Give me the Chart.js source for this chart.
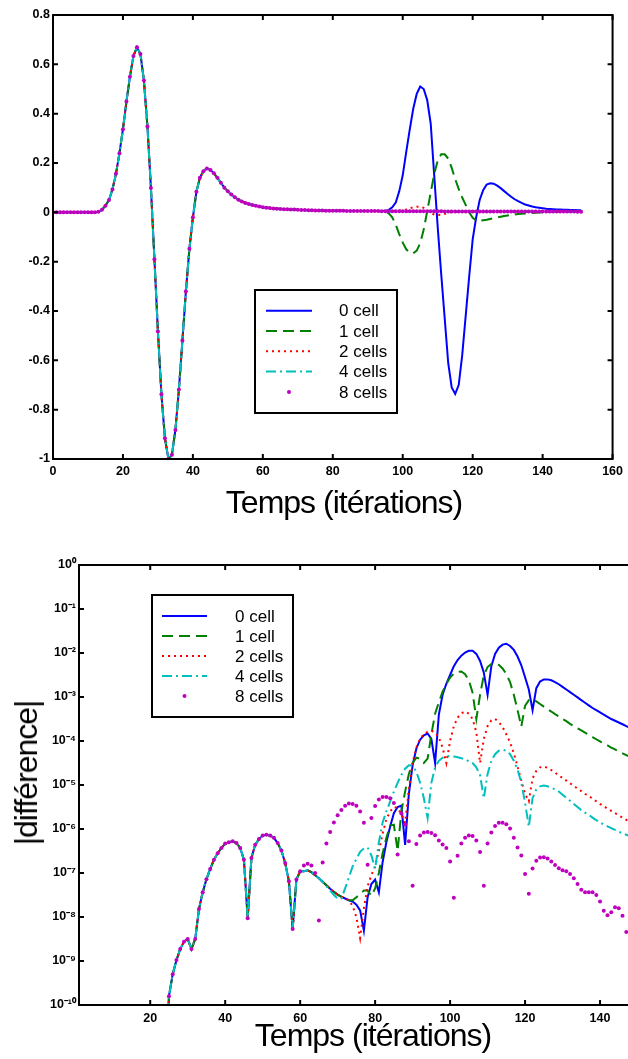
<!DOCTYPE html>
<html>
<head>
<meta charset="utf-8">
<script src="https://cdn.jsdelivr.net/npm/chart.js@4/dist/chart.umd.min.js"></script>
<style>
  body { margin: 0; width: 628px; height: 1059px; overflow: hidden; position: relative; background: #fff; }
  canvas { position: absolute; left: 0; }
  .title { position: absolute; font: 32px "Liberation Sans", Arial, sans-serif; letter-spacing: -1px;
           line-height: 32px; white-space: nowrap; color: #000; transform: translateX(-50%); }
  .ytitle { position: absolute; left: 26px; top: 773px; font: 32px "Liberation Sans", Arial, sans-serif;
            letter-spacing: -1px; line-height: 32px; white-space: nowrap; color: #000;
            transform: translate(-50%, -50%) rotate(-90deg); }
</style>
</head>
<body>
<canvas id="top" width="628" height="485" style="top:0"></canvas>
<canvas id="bottom" width="700" height="529" style="top:530px"></canvas>
<div class="title" style="left:344px; top:486px">Temps (itérations)</div>
<div class="title" style="left:373px; top:1019px">Temps (itérations)</div>
<div class="ytitle">|différence|</div>
<script>
// series names, one per simulation
const seriesNames = ['0 cell', '1 cell', '2 cells', '4 cells', '8 cells'];

// top chart: signal vs iteration, t = 0..151 (common waveform, 4 and 8 cells stay on it)
const topBase = [
  0, 0, 0, 0, 0, 0, 0, 0, 0, 0,
  0, 0, 0, 0.002, 0.01, 0.027, 0.05, 0.093, 0.156, 0.24,
  0.337, 0.449, 0.55, 0.634, 0.669, 0.642, 0.534, 0.348, 0.099, -0.19,
  -0.483, -0.737, -0.916, -1.0, -0.983, -0.882, -0.718, -0.52, -0.32, -0.148,
  -0.02, 0.083, 0.14, 0.167, 0.178, 0.172, 0.158, 0.14, 0.12, 0.1,
  0.085, 0.072, 0.061, 0.051, 0.044, 0.038, 0.034, 0.03, 0.027, 0.024,
  0.021, 0.019, 0.018, 0.016, 0.015, 0.014, 0.013, 0.012, 0.011, 0.011,
  0.01, 0.0095, 0.009, 0.0085, 0.008, 0.0075, 0.007, 0.007, 0.0068, 0.0066,
  0.0064, 0.0062, 0.006, 0.006, 0.0058, 0.0056, 0.0055, 0.0054, 0.0053, 0.0052,
  0.0051, 0.005, 0.005, 0.0049, 0.0048, 0.0047, 0.0046, 0.0045, 0.0045, 0.0044,
  0.0044, 0.0043, 0.0043, 0.0042, 0.0042, 0.0041, 0.0041, 0.004, 0.004, 0.004,
  0.0039, 0.0039, 0.0038, 0.0038, 0.0038, 0.0037, 0.0037, 0.0036, 0.0036, 0.0036,
  0.0035, 0.0035, 0.0035, 0.0034, 0.0034, 0.0034, 0.0033, 0.0033, 0.0033, 0.0033,
  0.0032, 0.0032, 0.0032, 0.0032, 0.0031, 0.0031, 0.0031, 0.0031, 0.003, 0.003,
  0.003, 0.003, 0.003, 0.003, 0.0029, 0.0029, 0.0029, 0.0029, 0.0029, 0.0029,
  0.0028, 0.0028
];
// tails from t = 95 where 0, 1, 2 cells leave the common waveform
const TOP_SPLIT = 95;
const top0Tail = [
  0.006, 0.01, 0.02, 0.04, 0.085, 0.15, 0.245, 0.335, 0.42, 0.48,
  0.51, 0.5, 0.455, 0.36, 0.15, -0.06, -0.25, -0.43, -0.61, -0.71,
  -0.736, -0.7, -0.58, -0.42, -0.26, -0.11, -0.02, 0.05, 0.09, 0.113,
  0.118, 0.116, 0.108, 0.098, 0.086, 0.074, 0.063, 0.053, 0.045, 0.038,
  0.032, 0.028, 0.024, 0.021, 0.019, 0.017, 0.015, 0.014, 0.013, 0.012,
  0.011, 0.01, 0.01, 0.009, 0.009, 0.008, 0.008
];
const top1Tail = [
  0.004, -0.004, -0.02, -0.05, -0.088, -0.123, -0.15, -0.163, -0.166, -0.155,
  -0.125, -0.07, 0.005, 0.08, 0.155, 0.21, 0.235, 0.235, 0.218, 0.18,
  0.135, 0.095, 0.06, 0.03, 0, -0.022, -0.033, -0.034, -0.032, -0.03,
  -0.027, -0.024, -0.021, -0.018, -0.015, -0.013, -0.011, -0.009, -0.007, -0.006,
  -0.005, -0.004, -0.003, -0.002, -0.001, 0, 0.001, 0.001, 0.002, 0.002,
  0.002, 0.003, 0.003, 0.003, 0.003, 0.003, 0.003
];
const top2Tail = [
  0.005, 0.005, 0.005, 0.006, 0.007, 0.009, 0.012, 0.016, 0.02, 0.023,
  0.023, 0.018, 0.008, -0.003, -0.009, -0.011, -0.01, -0.006, -0.002, 0.001,
  0.002, 0.003, 0.003, 0.003, 0.003, 0.003, 0.003, 0.003, 0.003, 0.003,
  0.003, 0.003, 0.003, 0.003, 0.003, 0.003, 0.003, 0.003, 0.003, 0.003,
  0.003, 0.003, 0.003, 0.003, 0.003, 0.003, 0.003, 0.003, 0.003, 0.003,
  0.003, 0.003, 0.003, 0.003, 0.003, 0.003, 0.003
];

// bottom chart: log10 of |difference|, t = 24..60 shared by all
const BOT_START = 24;
const botBaseLog = [
  -12, -9.8, -9.3, -8.98, -8.73, -8.56, -8.5, -8.73, -8.5, -7.82,
  -7.44, -7.14, -6.91, -6.7, -6.55, -6.43, -6.33, -6.3, -6.28, -6.32,
  -6.43, -6.7, -8.03, -6.66, -6.36, -6.23, -6.15, -6.13, -6.15, -6.2,
  -6.32, -6.49, -6.77, -7.19, -8.27, -7.15, -6.96
];
// t = 61..151
const bot0Tail = [
  -6.96, -6.94, -6.98, -7.05, -7.12, -7.2, -7.28, -7.36, -7.43, -7.49,
  -7.54, -7.58, -7.62, -7.65, -7.72, -7.85, -8.31, -7.55, -7.25, -7.15,
  -7.44, -6.75, -6.3, -5.95, -5.64, -5.5, -5.47, -6.36, -5.2, -4.55,
  -4.17, -3.97, -3.87, -3.83, -3.95, -4.5, -3.4, -2.95, -2.7, -2.5,
  -2.3, -2.16, -2.06, -1.99, -1.95, -1.95, -2.02, -2.18, -2.45, -2.95,
  -2.3, -2.02, -1.88, -1.81, -1.79, -1.84, -1.93, -2.08, -2.28, -2.55,
  -2.83, -3.3, -2.8, -2.65, -2.6, -2.6, -2.62, -2.66, -2.71, -2.77,
  -2.83, -2.89, -2.95, -3.01, -3.07, -3.13, -3.19, -3.25, -3.3, -3.35,
  -3.4, -3.45, -3.5, -3.54, -3.58, -3.62, -3.66, -3.7, -3.73, -3.77,
  -3.8
];
const bot1Tail = [
  -6.96, -6.94, -6.98, -7.05, -7.12, -7.2, -7.28, -7.36, -7.43, -7.49,
  -7.54, -7.58, -7.62, -7.62, -7.55, -7.48, -7.4, -7.4, -7.52, -7.35,
  -7.0, -6.55, -6.2, -5.92, -5.9, -6.5, -5.6, -5.15, -4.75, -4.5,
  -4.38, -4.4, -4.5, -4.4, -3.85, -3.38, -3.12, -2.88, -2.7, -2.56,
  -2.47, -2.43, -2.42, -2.48, -2.62, -2.9, -3.5, -2.95, -2.5, -2.32,
  -2.25, -2.24, -2.27, -2.35, -2.48, -2.66, -2.95, -3.3, -3.67, -3.2,
  -3.07, -3.05, -3.1, -3.16, -3.22, -3.28, -3.33, -3.39, -3.44, -3.5,
  -3.55, -3.61, -3.66, -3.71, -3.76, -3.81, -3.86, -3.91, -3.96, -4.01,
  -4.06, -4.1, -4.15, -4.19, -4.24, -4.28, -4.32, -4.36, -4.4, -4.43,
  -4.46
];
const bot2Tail = [
  -6.96, -6.94, -6.98, -7.05, -7.12, -7.2, -7.28, -7.36, -7.43, -7.49,
  -7.54, -7.58, -7.62, -7.75, -8.0, -8.48, -7.8, -7.3, -7.05, -6.85,
  -6.5, -6.1, -5.78, -5.6, -5.5, -5.52, -5.66, -5.86, -5.1, -4.5,
  -4.15, -3.95, -3.84, -3.79, -3.77, -3.8, -3.92, -4.15, -4.5, -4.0,
  -3.66, -3.47, -3.37, -3.33, -3.38, -3.5, -3.8, -4.5, -3.95, -3.66,
  -3.53, -3.5, -3.57, -3.68, -3.85, -4.03, -4.28, -4.58, -4.9, -5.2,
  -5.37, -4.85, -4.68, -4.6, -4.58, -4.61, -4.66, -4.72, -4.78, -4.84,
  -4.9, -4.96, -5.02, -5.08, -5.14, -5.2, -5.25, -5.31, -5.37, -5.43,
  -5.48, -5.54, -5.59, -5.64, -5.69, -5.74, -5.79, -5.83, -5.87, -5.91,
  -5.95
];
const bot4Tail = [
  -6.96, -6.94, -6.98, -7.05, -7.12, -7.2, -7.3, -7.4, -7.5, -7.58,
  -7.58, -7.35, -7.1, -6.85, -6.68, -6.52, -6.44, -6.42, -6.6, -6.9,
  -6.3, -5.85, -5.6, -5.38, -5.15, -4.95, -4.77, -4.63, -4.55, -4.56,
  -4.7, -4.95, -5.3, -5.75, -4.95, -4.6, -4.45, -4.38, -4.35, -4.34,
  -4.35, -4.37, -4.39, -4.42, -4.46, -4.5, -4.6, -4.78, -5.3, -4.75,
  -4.45, -4.3, -4.22, -4.2, -4.22, -4.3, -4.45, -4.65, -4.95, -5.4,
  -5.95, -5.3, -5.1, -5.03, -5.01, -5.03, -5.06, -5.1, -5.15, -5.22,
  -5.29, -5.36, -5.43, -5.5, -5.57, -5.63, -5.68, -5.74, -5.8, -5.85,
  -5.9, -5.94, -5.98, -6.02, -6.06, -6.1, -6.13, -6.16, -6.19, -6.22,
  -6.25
];
const bot8Tail = [
  -6.83, -6.79, -6.83, -7.0, -8.08, -6.76, -6.33, -6.07, -5.85, -5.69,
  -5.57, -5.47, -5.42, -5.43, -5.47, -5.6, -5.86, -6.81, -5.75, -5.48,
  -5.33, -5.27, -5.27, -5.3, -5.41, -6.58, -5.65, -5.9, -6.28, -7.29,
  -6.34, -6.15, -6.08, -6.07, -6.09, -6.14, -6.26, -6.35, -6.43, -6.74,
  -7.56, -6.61, -6.33, -6.2, -6.15, -6.16, -6.26, -6.52, -7.29, -6.33,
  -6.08, -5.93, -5.86, -5.86, -5.89, -5.99, -6.2, -6.42, -6.6, -7.02,
  -7.47, -6.9, -6.72, -6.65, -6.64, -6.67, -6.74, -6.82, -6.89, -6.94,
  -6.96, -7.02, -7.12, -7.25, -7.38, -7.44, -7.44, -7.44, -7.5, -7.65,
  -7.86, -7.96, -7.89, -7.78, -7.8, -7.97, -8.34, -8.74, null, null,
  null
];

// tick lists
const topXTicks = [0, 20, 40, 60, 80, 100, 120, 140, 160];
const botDecades = [-10, -9, -8, -7, -6, -5, -4, -3, -2, -1, 0];

// styles
const seriesColors = ['#0000ff', '#008000', '#ff0000', '#00bfbf', '#bf00bf'];
const seriesDash = [[], [11, 6], [2, 4], [10, 4, 2, 4], []];
const tickFont = { family: '"Liberation Sans", Arial, sans-serif', size: 12.5, weight: 'bold' };

const SUP = { '-': '\u207B', '0': '\u2070', '1': '\u00B9', '2': '\u00B2', '3': '\u00B3',
  '4': '\u2074', '5': '\u2075', '6': '\u2076', '7': '\u2077', '8': '\u2078', '9': '\u2079' };
function sup(n) {
  return String(n).split('').map(c => SUP[c]).join('');
}

function topSeries(tail) {
  const vals = tail ? topBase.slice(0, TOP_SPLIT).concat(tail) : topBase;
  return vals.map((v, i) => ({ x: i, y: v }));
}
function botSeries(tail) {
  return botBaseLog.concat(tail).map((e, i) => ({ x: BOT_START + i, y: e === null ? null : Math.pow(10, e) }));
}

function makeDatasets(seriesData) {
  return seriesData.map((data, i) => {
    const dots = i === 4;
    return {
      label: seriesNames[i],
      data,
      order: 5 - i,
      borderColor: seriesColors[i],
      backgroundColor: seriesColors[i],
      borderWidth: 2,
      borderDash: seriesDash[i],
      showLine: !dots,
      pointRadius: dots ? 2 : 0,
      pointBackgroundColor: seriesColors[i],
      pointBorderWidth: 0,
      pointStyle: 'circle'
    };
  });
}

// frame with inward tick marks on all four sides + boxed legend
const frameLegend = {
  id: 'frameLegend',
  afterDraw(chart, args, o) {
    const { ctx, chartArea: a, scales: { x, y } } = chart;
    ctx.save();
    ctx.strokeStyle = '#000';
    ctx.lineWidth = 2;
    ctx.beginPath();
    x.ticks.forEach(t => {
      const px = x.getPixelForValue(t.value);
      ctx.moveTo(px, a.bottom); ctx.lineTo(px, a.bottom - o.len);
      ctx.moveTo(px, a.top); ctx.lineTo(px, a.top + o.len);
    });
    y.ticks.forEach(t => {
      const py = y.getPixelForValue(t.value);
      ctx.moveTo(a.left, py); ctx.lineTo(a.left + o.len, py);
      ctx.moveTo(a.right, py); ctx.lineTo(a.right - o.len, py);
    });
    ctx.stroke();
    ctx.strokeRect(a.left, a.top, a.right - a.left, a.bottom - a.top);

    // legend box
    const [bx, by, bw, bh] = o.box;
    ctx.fillStyle = '#fff';
    ctx.fillRect(bx, by, bw, bh);
    ctx.strokeRect(bx, by, bw, bh);
    ctx.font = '17px "Liberation Sans", Arial, sans-serif';
    ctx.textBaseline = 'middle';
    chart.data.datasets.forEach((ds, i) => {
      const yy = o.firstRow + i * o.rowGap;
      if (ds.showLine === false) {
        ctx.fillStyle = ds.pointBackgroundColor;
        ctx.beginPath();
        ctx.arc((o.lineX[0] + o.lineX[1]) / 2, yy, 2, 0, Math.PI * 2);
        ctx.fill();
      } else {
        ctx.strokeStyle = ds.borderColor;
        ctx.lineWidth = ds.borderWidth;
        ctx.setLineDash(ds.borderDash);
        ctx.beginPath();
        ctx.moveTo(o.lineX[0], yy); ctx.lineTo(o.lineX[1], yy);
        ctx.stroke();
        ctx.setLineDash([]);
      }
      ctx.fillStyle = '#000';
      ctx.fillText(ds.label, o.textX, yy + 1);
    });
    ctx.restore();
  }
};

const axisCommon = {
  grid: { display: false, drawTicks: false },
  border: { display: false }
};

new Chart(document.getElementById('top'), {
  type: 'line',
  data: { datasets: makeDatasets([topSeries(top0Tail), topSeries(top1Tail), topSeries(top2Tail), topSeries(null), topSeries(null)]) },
  options: {
    responsive: false,
    animation: false,
    layout: { padding: { top: 15, right: 11, left: 0, bottom: 0 } },
    plugins: {
      legend: { display: false },
      tooltip: { enabled: false },
      frameLegend: { len: 5, box: [255, 290, 142, 123], firstRow: 310.7, rowGap: 20.3, lineX: [266, 312], textX: 339 }
    },
    scales: {
      x: {
        ...axisCommon, type: 'linear', min: 0, max: 160,
        afterBuildTicks: s => { s.ticks = topXTicks.map(v => ({ value: v })); },
        ticks: { font: tickFont, color: '#000', padding: 5, maxRotation: 0, callback: v => String(v) },
        afterFit: s => { s.height = 26; }
      },
      y: {
        ...axisCommon, type: 'linear', min: -1, max: 0.8,
        ticks: { stepSize: 0.2, font: tickFont, color: '#000', padding: 3, callback: v => String(Math.round(v * 10) / 10) },
        afterFit: s => { s.width = 53; }
      }
    }
  },
  plugins: [frameLegend]
});

new Chart(document.getElementById('bottom'), {
  type: 'line',
  data: { datasets: makeDatasets([botSeries(bot0Tail), botSeries(bot1Tail), botSeries(bot2Tail), botSeries(bot4Tail), botSeries(bot8Tail)]) },
  options: {
    responsive: false,
    animation: false,
    layout: { padding: { top: 35, right: 25, left: 0, bottom: 0 } },
    plugins: {
      legend: { display: false },
      tooltip: { enabled: false },
      frameLegend: { len: 5, box: [152, 65, 141, 122], firstRow: 86, rowGap: 20, lineX: [162, 207], textX: 235 }
    },
    scales: {
      x: {
        ...axisCommon, type: 'linear', min: 1, max: 160,
        ticks: { stepSize: 20, includeBounds: false, font: tickFont, color: '#000', padding: 6, maxRotation: 0, callback: v => String(v) },
        afterFit: s => { s.height = 54; }
      },
      y: {
        ...axisCommon, type: 'logarithmic', min: 1e-10, max: 1,
        afterBuildTicks: s => { s.ticks = botDecades.map(e => ({ value: Math.pow(10, e) })); },
        ticks: { font: tickFont, color: '#000', padding: 3, callback: v => '10' + sup(Math.round(Math.log10(v))) },
        afterFit: s => { s.width = 79; }
      }
    }
  },
  plugins: [frameLegend]
});
</script>
</body>
</html>
